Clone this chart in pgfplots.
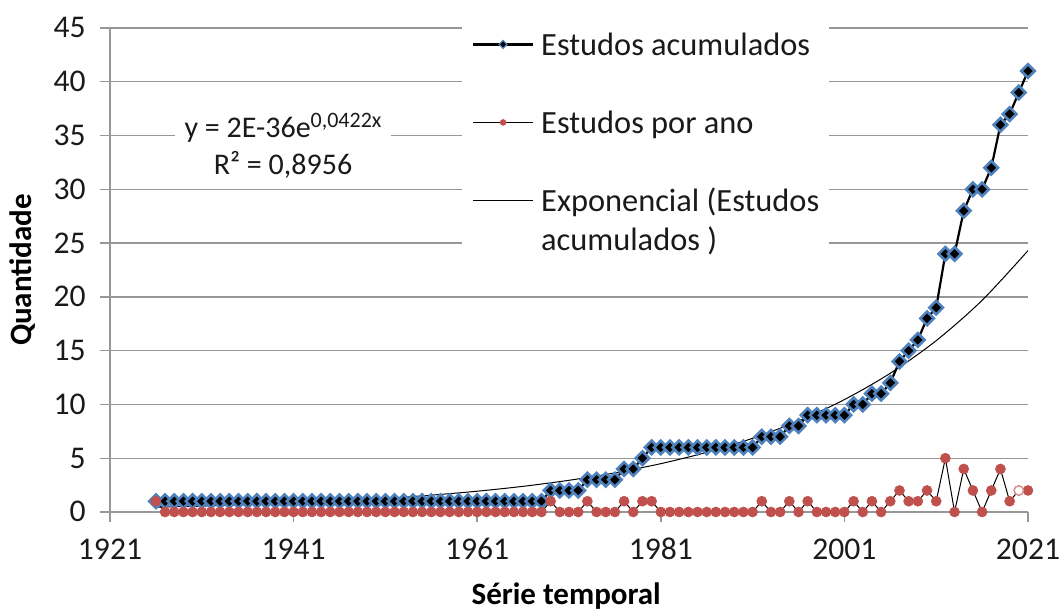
\documentclass[border=0pt]{standalone}
\usepackage{pgfplots}
\pgfplotsset{compat=1.18}
\usepackage{pgfplotstable}
\usepackage{fontspec}
\setmainfont{Carlito}
\definecolor{sblue}{HTML}{4F81BD}
\definecolor{sred}{HTML}{C0504D}
\definecolor{gridc}{HTML}{979797}
\definecolor{txt}{HTML}{1A1A1A}

\pgfplotstableread{
year cum per
1926 1 1
1927 1 0
1928 1 0
1929 1 0
1930 1 0
1931 1 0
1932 1 0
1933 1 0
1934 1 0
1935 1 0
1936 1 0
1937 1 0
1938 1 0
1939 1 0
1940 1 0
1941 1 0
1942 1 0
1943 1 0
1944 1 0
1945 1 0
1946 1 0
1947 1 0
1948 1 0
1949 1 0
1950 1 0
1951 1 0
1952 1 0
1953 1 0
1954 1 0
1955 1 0
1956 1 0
1957 1 0
1958 1 0
1959 1 0
1960 1 0
1961 1 0
1962 1 0
1963 1 0
1964 1 0
1965 1 0
1966 1 0
1967 1 0
1968 1 0
1969 2 1
1970 2 0
1971 2 0
1972 2 0
1973 3 1
1974 3 0
1975 3 0
1976 3 0
1977 4 1
1978 4 0
1979 5 1
1980 6 1
1981 6 0
1982 6 0
1983 6 0
1984 6 0
1985 6 0
1986 6 0
1987 6 0
1988 6 0
1989 6 0
1990 6 0
1991 6 0
1992 7 1
1993 7 0
1994 7 0
1995 8 1
1996 8 0
1997 9 1
1998 9 0
1999 9 0
2000 9 0
2001 9 0
2002 10 1
2003 10 0
2004 11 1
2005 11 0
2006 12 1
2007 14 2
2008 15 1
2009 16 1
2010 18 2
2011 19 1
2012 24 5
2013 24 0
2014 28 4
2015 30 2
2016 30 0
2017 32 2
2018 36 4
2019 37 1
2020 39 2
2021 41 2
}\data

\pgfplotstableread{
year trend
1926 0.441
1931 0.545
1936 0.673
1941 0.831
1946 1.026
1951 1.267
1956 1.564
1961 1.932
1966 2.386
1971 2.946
1976 3.638
1981 4.493
1986 5.548
1991 6.852
1996 8.461
2001 10.45
2006 12.90
2011 15.93
2016 19.68
2021 24.30
}\trend

\begin{document}
\begin{tikzpicture}
\useasboundingbox (-55pt,-50.5pt) rectangle (476pt,256pt);
\begin{axis}[
  scale only axis, width=459pt, height=242pt,
  xmin=1921, xmax=2021, ymin=0, ymax=45,
  xtick={1921,1941,1961,1981,2001,2021},
  ytick={0,5,...,45},
  axis x line=bottom, axis y line=left,
  axis line style={-, gridc, line width=0.7pt},
  ymajorgrids, grid style={gridc, line width=0.7pt},
  tick align=outside, major tick length=5pt,
  tick style={gridc, line width=0.7pt},
  tick label style={font=\fontsize{15.8}{18}\selectfont},
  /pgf/number format/assume math mode=true,
  x tick label style={/pgf/number format/1000 sep={}, anchor=base, inner sep=0pt, yshift=-19pt, text=txt},
  y tick label style={anchor=base east, inner sep=0pt, xshift=-7pt, yshift=-5pt, text=txt},
  xlabel={\bfseries Série temporal},
  ylabel={\bfseries Quantidade},
  label style={font=\fontsize{15.5}{18}\selectfont},
  xlabel style={at={(axis description cs:0.497,-0.1921)}, anchor=base, inner sep=0pt, text=black},
  ylabel style={at={(axis description cs:-0.0948,0.5)}, anchor=center, inner sep=0pt, text=black},
  clip=false,
  legend style={at={(axis description cs:0.383,1.002)}, anchor=north west, draw=none, fill=white,
    inner xsep=5pt, inner ysep=2pt, row sep=0pt, column sep=3.5pt,
    nodes={inner sep=0pt, text depth=, text=txt}, font=\fontsize{16.2}{19.5}\selectfont},
  legend cell align=left,
  legend style={cells={anchor=base west}},
  legend image code/.code={\draw[mark repeat=2,mark phase=2,#1] plot coordinates {(0pt,5.5pt) (15pt,5.5pt) (30pt,5.5pt)};},
]
\addplot[black, line width=1.1pt, mark=square*, mark size=2.4pt,
  mark options={rotate=45, fill=black, draw=sblue, line width=1.3pt, solid}, forget plot]
  table[x=year, y=cum]{\data};
\addplot[black, line width=0.5pt, mark=*, mark size=2.5pt,
  mark options={fill=sred, draw=sred, line width=0.3pt, solid}, forget plot]
  table[x=year, y=per]{\data};
\addplot[only marks, mark=*, mark size=2.3pt,
  mark options={fill=white, draw=sred!60, line width=0.6pt}, forget plot]
  coordinates {(2020,2)};
\addplot[black, line width=0.5pt, smooth, no marks, forget plot]
  table[x=year, y=trend]{\trend};

\addlegendimage{black, line width=1.1pt, mark=square*, mark size=1.4pt,
  mark options={rotate=45, fill=black, draw=sblue, line width=0.6pt, solid}}
\addlegendentry{Estudos acumulados\rule[-27pt]{0pt}{39pt}}
\addlegendimage{black, line width=0.5pt, mark=*, mark size=1.5pt,
  mark options={fill=sred, draw=sred, line width=0.2pt, solid}}
\addlegendentry{Estudos por ano\rule[-27pt]{0pt}{39pt}}
\addlegendimage{black, line width=0.5pt}
\addlegendentry{Exponencial (Estudos\rule[-7.5pt]{0pt}{19.5pt}}
\addlegendimage{empty legend}
\addlegendentry{acumulados )\rule[-4pt]{0pt}{16pt}}

\node[fill=white, anchor=base, inner xsep=5pt, inner ysep=3pt, text=txt, font=\fontsize{15}{18}\selectfont] at (axis cs:1939.85,34.85)
  {y = 2E-36e\raisebox{4.8pt}{\fontsize{11}{12}\selectfont 0,0422x}};
\node[anchor=base, inner sep=0pt, text=txt, font=\fontsize{15}{18}\selectfont] at (axis cs:1939.85,31.41) {R² = 0,8956};
\end{axis}
\end{tikzpicture}
\end{document}
